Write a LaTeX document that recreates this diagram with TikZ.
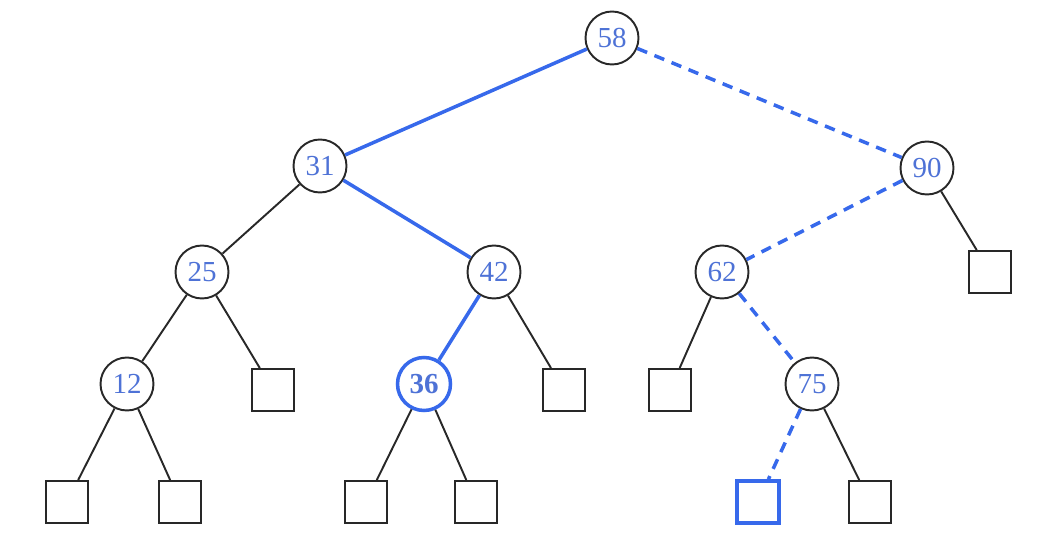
\documentclass[tikz,border=0pt]{standalone}
\usepackage{fontspec}
\setmainfont{Liberation Serif}
\usetikzlibrary{positioning}
\definecolor{treeblue}{RGB}{55,105,235}
\definecolor{keyblue}{RGB}{78,114,214}
\definecolor{treegray}{RGB}{40,40,40}

\tikzset{
  keynode/.style={circle,draw=treegray,line width=1.1pt,minimum size=1.06cm,inner sep=0pt,
    text=keyblue,font=\fontsize{16.5}{16.5}\selectfont},
  leafbox/.style={rectangle,draw=treegray,line width=1.1pt,minimum size=0.84cm,inner sep=0pt},
  plainedge/.style={draw=treegray,line width=1.1pt},
  pathedge/.style={draw=treeblue,line width=2pt},
  missedge/.style={draw=treeblue,line width=2pt,dash pattern=on 6pt off 4.5pt}
}

\begin{document}
\begin{tikzpicture}[x=0.02cm,y=-0.02cm]
  \useasboundingbox (0,0) rectangle (1042,550);
  % keys
  \node[keynode] (k58) at (612,38) {58};
  \node[keynode] (k31) at (320,166) {31};
  \node[keynode] (k90) at (927,168) {90};
  \node[keynode] (k25) at (202,272) {25};
  \node[keynode] (k42) at (494,272) {42};
  \node[keynode] (k62) at (722,272) {62};
  \node[keynode] (k12) at (127,384) {12};
  \node[keynode,draw=treeblue,line width=2pt,font=\fontsize{16.5}{16.5}\selectfont\bfseries] (k36) at (424,384) {36};
  \node[keynode] (k75) at (812,384) {75};
  % empty leaves
  \node[leafbox] (l90) at (990,272) {};
  \node[leafbox] (l25) at (273,390) {};
  \node[leafbox] (l42) at (564,390) {};
  \node[leafbox] (l62) at (670,390) {};
  \node[leafbox] (l12a) at (67,502) {};
  \node[leafbox] (l12b) at (180,502) {};
  \node[leafbox] (l36a) at (366,502) {};
  \node[leafbox] (l36b) at (476,502) {};
  \node[leafbox,draw=treeblue,line width=2pt] (l75a) at (758,502) {};
  \node[leafbox] (l75b) at (870,502) {};
  % edges
  \draw[pathedge] (k58) -- (k31);
  \draw[pathedge] (k31) -- (k42);
  \draw[pathedge] (k42) -- (k36);
  \draw[missedge] (k58) -- (k90);
  \draw[missedge] (k90) -- (k62);
  \draw[missedge] (k62) -- (k75);
  \draw[missedge] (k75) -- (l75a);
  \draw[plainedge] (k90) -- (l90);
  \draw[plainedge] (k31) -- (k25);
  \draw[plainedge] (k25) -- (k12);
  \draw[plainedge] (k25) -- (l25);
  \draw[plainedge] (k42) -- (l42);
  \draw[plainedge] (k62) -- (l62);
  \draw[plainedge] (k12) -- (l12a);
  \draw[plainedge] (k12) -- (l12b);
  \draw[plainedge] (k36) -- (l36a);
  \draw[plainedge] (k36) -- (l36b);
  \draw[plainedge] (k75) -- (l75b);
\end{tikzpicture}
\end{document}
